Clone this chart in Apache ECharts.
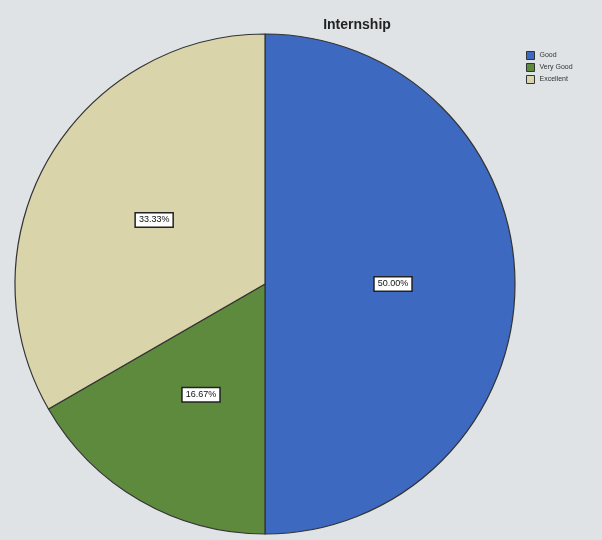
<!DOCTYPE html>
<html><head><meta charset="utf-8">
<script src="https://cdn.jsdelivr.net/npm/echarts@6/dist/echarts.min.js"></script>
<style>html,body{margin:0;padding:0;background:#dfe3e5;}#c{width:602px;height:540px;}</style>
</head><body><div id="c"></div>
<script>
const categories = ["Good", "Very Good", "Excellent"];
const values = [50.00, 16.67, 33.33];
const colors = ["#3d69c0", "#5e8a3e", "#d9d4aa"];

const chart = echarts.init(document.getElementById('c'));
chart.setOption({
  backgroundColor: '#dfe3e5',
  animation: false,
  title: {
    text: 'Internship', left: 352, top: 13, textAlign: 'center',
    textStyle: {fontFamily: 'Liberation Sans', fontSize: 14, fontWeight: 'bold', color: '#222'}
  },
  legend: {
    orient: 'vertical', left: 521, top: 46, itemWidth: 8, itemHeight: 8, itemGap: 3,
    icon: 'rect',
    itemStyle: {borderColor: '#333', borderWidth: 1},
    textStyle: {fontFamily: 'Liberation Sans', fontSize: 7, color: '#333'},
    data: categories
  },
  series: [{
    type: 'pie',
    center: [265, 284],
    radius: 250,
    startAngle: 90,
    clockwise: true,
    data: categories.map((c, i) => ({name: c, value: values[i], itemStyle: {color: colors[i]}})),
    itemStyle: {borderColor: '#333', borderWidth: 1.2},
    label: {
      position: 'inside',
      formatter: p => p.value.toFixed(2) + '%',
      fontFamily: 'Liberation Sans', fontSize: 9, color: '#111',
      backgroundColor: '#fff', borderColor: '#222', borderWidth: 1.5, padding: [2, 3]
    },
    labelLine: {show: false},
    emphasis: {disabled: true}
  }]
});
</script></body></html>
